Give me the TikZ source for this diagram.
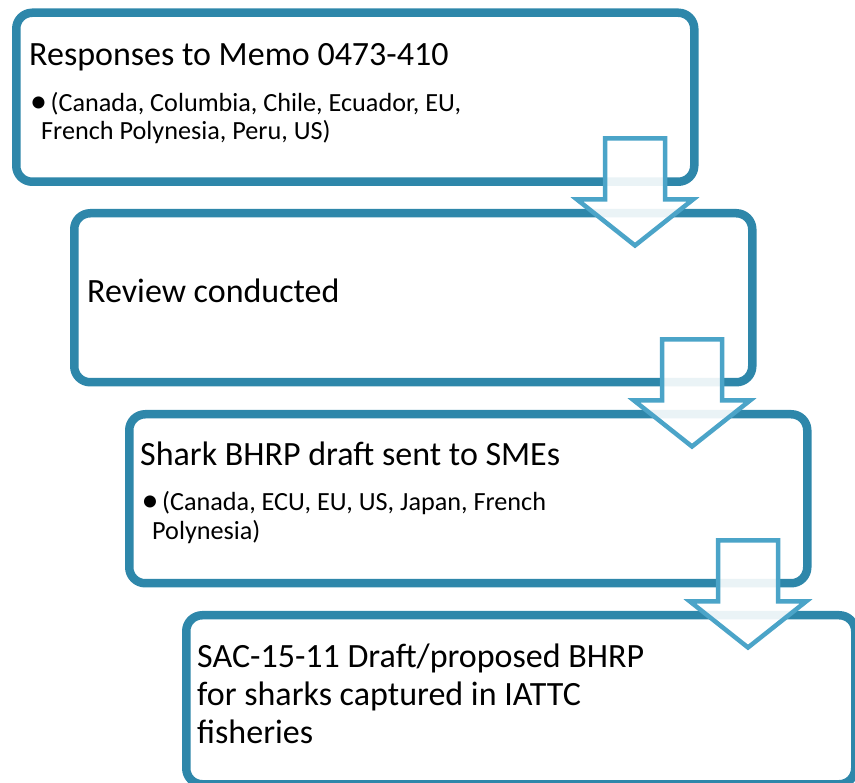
\documentclass[tikz,border=0pt]{standalone}
\usepackage{fontspec}
\setmainfont{Carlito}
\usetikzlibrary{shadows}
\definecolor{boxblue}{RGB}{46,135,170}
\definecolor{arrblue}{RGB}{75,164,200}
\newcommand{\mybul}{\makebox[21pt][l]{\hspace{0.5pt}\raisebox{-1pt}{\fontsize{34}{34}\selectfont •}}}
\begin{document}
\begin{tikzpicture}[x=1pt,y=-1pt,
  box/.style={draw=boxblue,line width=8.5pt,rounded corners=16pt,fill=white,
    minimum width=678pt,minimum height=169pt,inner sep=0pt,anchor=north west,
    drop shadow={shadow xshift=1.5pt,shadow yshift=-3pt,opacity=0.2,fill=black}},
  ttl/.style={anchor=base west,inner sep=0pt,font=\fontsize{34}{38}\selectfont},
  bul/.style={anchor=base west,inner sep=0pt,font=\fontsize{26.2}{29}\selectfont},
  arr/.style={draw=arrblue,line width=4.5pt,line join=miter,fill=white,fill opacity=0.9},
  downarrow/.pic={\path[arr] (-30,0) -- (30,0) -- (30,61) -- (58,61) -- (0,107) -- (-58,61) -- (-30,61) -- cycle;}
]
\useasboundingbox (0,0) rectangle (855,783);
% boxes
\node[box] (b1) at (12,8.5) {};
\node[box] (b2) at (70,209) {};
\node[box] (b3) at (125,410) {};
\node[box,minimum width=669pt] (b4) at (182,611) {};
% texts
\node[ttl] (t1) at (29,66) {Responses to Memo 0473-410};
\node[bul] (t1a) at (29.5,112) {\mybul(Canada, Columbia, Chile, Ecuador, EU,};
\node[bul] (t1b) at (41,140) {French Polynesia, Peru, US)};
\node[ttl] (t2) at (87,303) {Review conducted};
\node[ttl] (t3) at (140,466) {Shark BHRP draft sent to SMEs};
\node[bul] (t3a) at (141,511) {\mybul(Canada, ECU, EU, US, Japan, French};
\node[bul] (t3b) at (152,540) {Polynesia)};
\node[ttl] (t4a) at (197,667) {SAC-15-11 Draft/proposed BHRP};
\node[ttl] (t4b) at (197,705) {for sharks captured in IATTC};
\node[ttl] (t4c) at (197,743) {fisheries};
% arrows
\coordinate (a1) at (635,138.5);
\coordinate (a2) at (692,339.5);
\coordinate (a3) at (748,540.5);
\pic at (a1) {downarrow};
\pic at (a2) {downarrow};
\pic at (a3) {downarrow};
\end{tikzpicture}
\end{document}
